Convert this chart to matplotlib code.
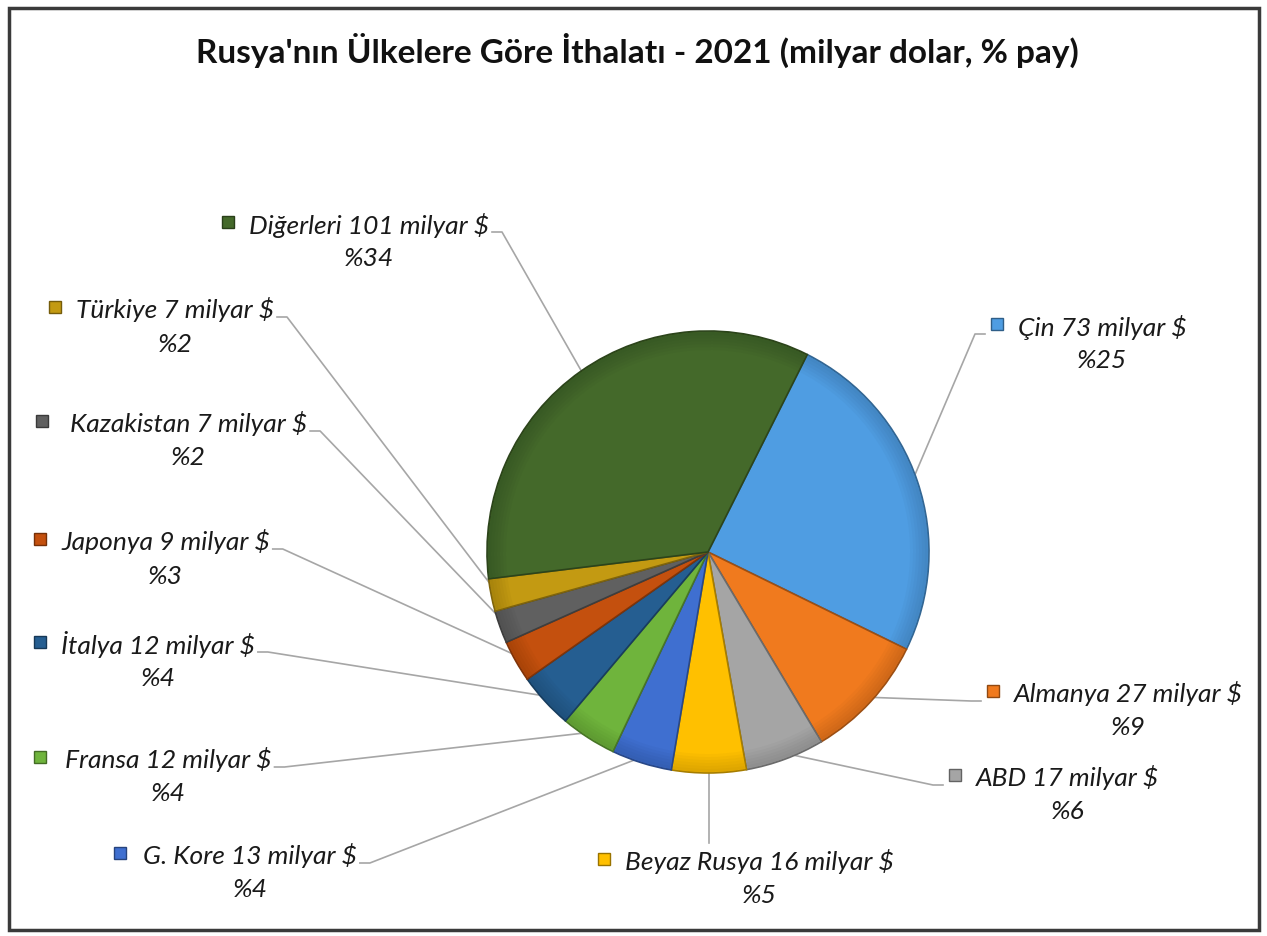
import matplotlib
matplotlib.use("Agg")
import matplotlib.pyplot as plt
import numpy as np
from matplotlib.patches import Rectangle, Wedge
import matplotlib.colors as mcolors

# ---- data ----
countries = ["Çin", "Almanya", "ABD", "Beyaz Rusya", "G. Kore", "Fransa",
             "İtalya", "Japonya", "Kazakistan", "Türkiye", "Diğerleri"]
values = [73, 27, 17, 16, 13, 12, 12, 9, 7, 7, 101]
shares = [25, 9, 6, 5, 4, 4, 4, 3, 2, 2, 34]
colors = ["#4f9de2", "#f07a1e", "#a5a5a5", "#ffc000", "#3f6fd0", "#6fb43c",
          "#255e91", "#c4500e", "#606060", "#c39a12", "#44692a"]

title = "Rusya'nın Ülkelere Göre İthalatı - 2021 (milyar dolar, % pay)"

# ---- layout (pixel coords, y from top) ----
W, H = 1267, 937
center_px = (708, 553)
radius = 221
label_pos = {
    "Çin": (997, 327),
    "Almanya": (993, 694),
    "ABD": (955, 778),
    "Beyaz Rusya": (604, 862),
    "G. Kore": (120, 856),
    "Fransa": (40, 760),
    "İtalya": (40, 645),
    "Japonya": (40, 542),
    "Kazakistan": (42, 424),
    "Türkiye": (55, 310),
    "Diğerleri": (228, 225),
}
text_gap = {"Kazakistan": 28, "Fransa": 25, "G. Kore": 23}

plt.rcParams['font.family'] = ['Lato', 'DejaVu Sans']

fig = plt.figure(figsize=(W / 100, H / 100), dpi=100)
ax = fig.add_axes([0, 0, 1, 1])

def Y(py):
    return H - py

def darker(c, f=0.75):
    r, g, b = mcolors.to_rgb(c)
    return (r * f, g * f, b * f)

cx, cy = center_px[0], Y(center_px[1])
wedges, _ = ax.pie(values, colors=colors, startangle=63.3, counterclock=False,
                   center=(cx, cy), radius=radius, frame=True,
                   wedgeprops=dict(linewidth=1.2))
for w, c in zip(wedges, colors):
    w.set_edgecolor(darker(c, 0.65))
    w.set_zorder(3)

# soft bevel shading near the rim of each wedge
for w, c in zip(wedges, colors):
    for k in range(6):
        wid = 3 + k * 3
        ax.add_patch(Wedge((cx, cy), radius - 1, w.theta1 + 0.3, w.theta2 - 0.3,
                           width=wid, fc=darker(c, 0.55), ec='none',
                           alpha=0.05, zorder=3.5))

ax.set_xlim(0, W)
ax.set_ylim(0, H)
ax.set_aspect('equal')
ax.axis('off')

# frame
ax.add_patch(Rectangle((9, Y(931)), 1250, 922, fill=False, ec="#3a3a3a", lw=2.5, zorder=1))

# title
ax.text(637, Y(50), title, ha='center', va='center', fontsize=24,
        fontweight='bold', color='#111111')

fs = 19
fig.canvas.draw()
inv = ax.transData.inverted()
for w, name, v, s, c in zip(wedges, countries, values, shares, colors):
    mx, ty = label_pos[name]
    ax.add_patch(Rectangle((mx - 6, Y(ty) - 4), 12, 12, fc=c, ec=darker(c, 0.6), lw=1, zorder=4))
    line1 = f"{name} {v} milyar $"
    gap = text_gap.get(name, 21)
    t1 = ax.text(mx + gap, Y(ty), line1, ha='left', va='center', fontsize=fs,
                 style='italic', color='#1a1a1a')
    bb = t1.get_window_extent(renderer=fig.canvas.get_renderer())
    (x0, _), (x1, _) = inv.transform([(bb.x0, 0), (bb.x1, 0)])
    xm = (x0 + x1) / 2
    ax.text(xm, Y(ty) - 34, f"%{s}", ha='center', va='center', fontsize=fs,
            style='italic', color='#1a1a1a')
    # leader
    ang = np.deg2rad((w.theta1 + w.theta2) / 2)
    px = cx + radius * np.cos(ang) * 0.97
    py = cy + radius * np.sin(ang) * 0.97
    if name == "Beyaz Rusya":
        ax.plot([px, px], [Y(ty) + 18, py], color='#a6a6a6', lw=1.2, zorder=2)
    elif px < cx - 30 or name in ("Diğerleri", "G. Kore"):
        sx, sy = x1 + 3, Y(ty) - 8
        ax.plot([sx, sx + 10, px], [sy, sy, py], color='#a6a6a6', lw=1.2, zorder=2)
    else:
        sx, sy = mx - 12, Y(ty) - 8
        ax.plot([sx, sx - 10, px], [sy, sy, py], color='#a6a6a6', lw=1.2, zorder=2)

fig.savefig("out.png", dpi=100)
